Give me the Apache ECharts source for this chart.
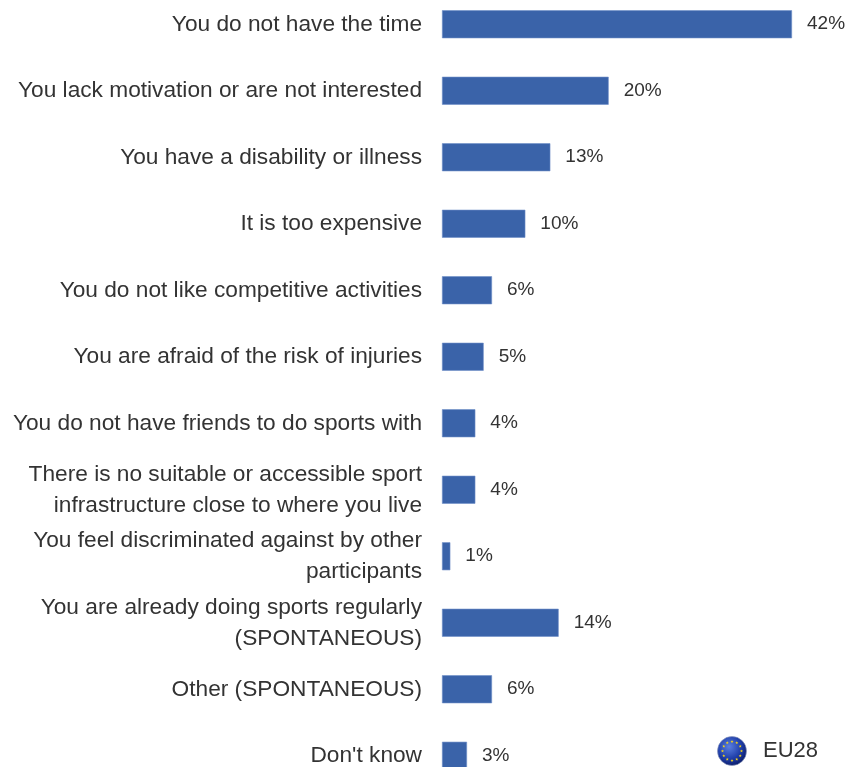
<!DOCTYPE html>
<html>
<head>
<meta charset="utf-8">
<script src="https://cdn.jsdelivr.net/npm/echarts@6/dist/echarts.min.js"></script>
<style>html,body{margin:0;padding:0;background:#fff;}#c{width:847px;height:767px;}</style>
</head>
<body>
<div id="c"></div>
<script>
const categories = [
  "You do not have the time",
  "You lack motivation or are not interested",
  "You have a disability or illness",
  "It is too expensive",
  "You do not like competitive activities",
  "You are afraid of the risk of injuries",
  "You do not have friends to do sports with",
  "There is no suitable or accessible sport\ninfrastructure close to where you live",
  "You feel discriminated against by other\nparticipants",
  "You are already doing sports regularly\n(SPONTANEOUS)",
  "Other (SPONTANEOUS)",
  "Don't know"
];
const seriesName = "EU28";
const values = [42, 20, 13, 10, 6, 5, 4, 4, 1, 14, 6, 3];

// EU flag icon for the legend
function flagIcon() {
  let stars = '';
  for (let i = 0; i < 12; i++) {
    const a = i / 12 * Math.PI * 2;
    const cx = 15 + 9.5 * Math.cos(a), cy = 15 + 9.5 * Math.sin(a);
    let pts = [];
    for (let k = 0; k < 10; k++) {
      const r = k % 2 === 0 ? 1.6 : 0.7;
      const b = -Math.PI / 2 + k * Math.PI / 5;
      pts.push((cx + r * Math.cos(b)).toFixed(2) + ',' + (cy + r * Math.sin(b)).toFixed(2));
    }
    stars += "<polygon points='" + pts.join(' ') + "' fill='#f2d31b'/>";
  }
  const svg = "<svg xmlns='http://www.w3.org/2000/svg' width='30' height='30' viewBox='0 0 30 30'>" +
    "<defs><radialGradient id='g' cx='40%' cy='35%' r='70%'><stop offset='0' stop-color='#5a7fe0'/><stop offset='0.6' stop-color='#1f3ea8'/><stop offset='1' stop-color='#0a1a66'/></radialGradient></defs>" +
    "<circle cx='15' cy='15' r='14.5' fill='url(#g)' stroke='#8a96b8' stroke-width='0.6'/>" + stars + "</svg>";
  return 'image://data:image/svg+xml;charset=utf-8,' + encodeURIComponent(svg);
}

const chart = echarts.init(document.getElementById('c'), null, {renderer: 'canvas'});
chart.setOption({
  animation: false,
  backgroundColor: '#ffffff',
  grid: {left: 442, width: 400, top: -9, height: 798, containLabel: false, outerBoundsMode: 'none'},
  xAxis: {
    type: 'value', min: 0, max: 48, show: false
  },
  yAxis: {
    type: 'category', data: categories, inverse: true,
    axisLine: {show: false}, axisTick: {show: false}, splitLine: {show: false},
    axisLabel: {
      margin: 20, fontFamily: 'Liberation Sans, Arial, sans-serif', fontSize: 22.7,
      color: '#333', lineHeight: 31, align: 'right'
    }
  },
  legend: {
    left: 712, top: 731, itemWidth: 30, itemHeight: 30, itemGap: 10,
    textStyle: {fontFamily: 'Liberation Sans, Arial, sans-serif', fontSize: 22, color: '#333', padding: [0, 0, 0, 11]},
    data: [{name: seriesName, icon: flagIcon()}]
  },
  series: [{
    name: seriesName, type: 'bar', data: values, barWidth: 28,
    itemStyle: {color: '#3a63a9', borderColor: '#6f8fc8', borderWidth: 0.6},
    label: {
      show: true, position: 'right', distance: 15, formatter: '{c}%',
      fontFamily: 'Liberation Sans, Arial, sans-serif', fontSize: 19, color: '#333'
    }
  }]
});
</script>
</body>
</html>
